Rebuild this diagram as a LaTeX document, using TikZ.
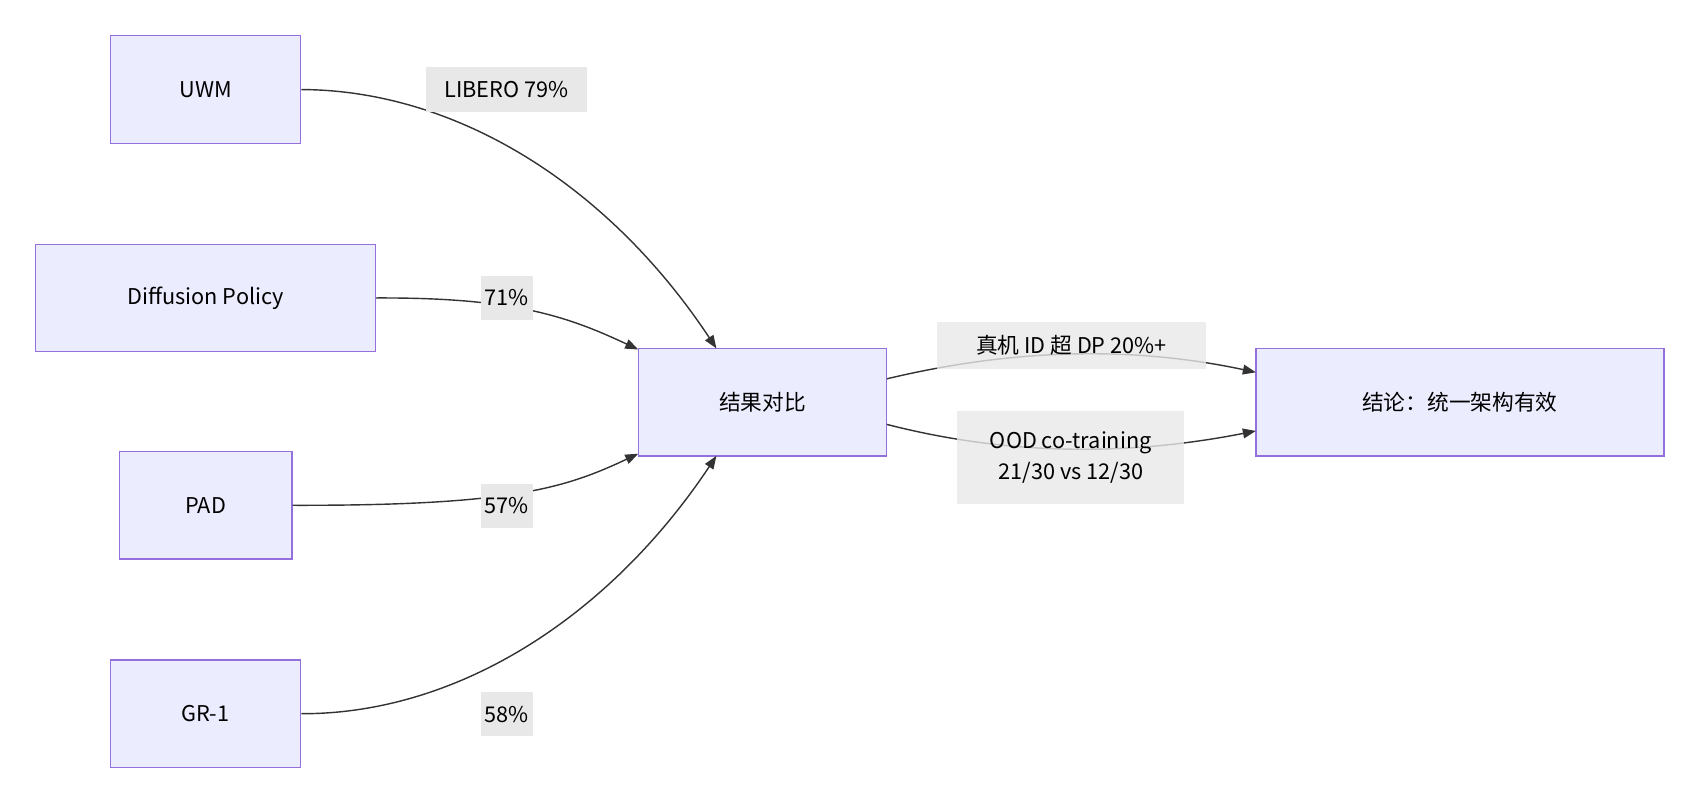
\documentclass[tikz,border=0pt]{standalone}
\usepackage{fontspec}
\setmainfont{Noto Sans CJK SC}
\usetikzlibrary{arrows.meta}
\begin{document}
\begin{tikzpicture}[x=1pt,y=-1pt,
  box/.style={draw=#1,fill=boxfill,line width=1.2pt,inner sep=0pt,font=\fontsize{20}{24}\selectfont},
  box/.default={boxline},
  lbl/.style={fill=lblfill,inner sep=2pt,font=\fontsize{20}{28}\selectfont,align=center},
  edge/.style={draw=edgec,line width=1.3pt,-{Triangle[length=12pt,width=9pt]}}]
\definecolor{boxfill}{HTML}{ECECFF}\definecolor{boxline}{HTML}{9370DB}
\definecolor{lblfill}{HTML}{E8E8E8}\definecolor{edgec}{HTML}{333333}
\useasboundingbox (0,0) rectangle (1568,741);
\node[box,minimum width=175,minimum height=99] (uwm) at (189.5,82.5) {UWM};
\node[box,minimum width=313,minimum height=99] (dp) at (189.5,274.5) {Diffusion Policy};
\node[box,minimum width=159,minimum height=99] (pad) at (189.5,465.5) {PAD};
\node[box,minimum width=175,minimum height=99] (gr) at (189.5,657.5) {GR-1};
\node[box,minimum width=229,minimum height=99] (cmp) at (702.5,370.5) {结果对比};
\node[box,minimum width=376,minimum height=99] (con) at (1345,370.5) {结论：统一架构有效};
\coordinate (c1) at (660,321);\coordinate (c2) at (588,322);
\coordinate (c3) at (588,418);\coordinate (c4) at (660,420);
\coordinate (c5) at (1157,343);\coordinate (c6) at (1157,397);
\draw[edge] (uwm.east) .. controls (420,83) and (560,170) .. (c1);
\draw[edge] (dp.east) .. controls (470,274) and (520,290) .. (c2);
\draw[edge] (pad.east) .. controls (470,466) and (520,450) .. (c3);
\draw[edge] (gr.east) .. controls (420,658) and (560,570) .. (c4);
\draw[edge] (817,349) .. controls (930,322) and (1040,318) .. (c5);
\draw[edge] (817,391) .. controls (930,420) and (1040,420) .. (c6);
\node[lbl,minimum width=149,minimum height=41] (l1) at (466.5,82.5) {LIBERO 79\%};
\node[lbl,minimum width=48,minimum height=41] (l2) at (467,274.5) {71\%};
\node[lbl,minimum width=48,minimum height=41] (l3) at (467,466) {57\%};
\node[lbl,minimum width=48,minimum height=41] (l4) at (467,658) {58\%};
\node[lbl,minimum width=248,minimum height=43,fill opacity=0.8,text opacity=1] (l5) at (987,318.5) {真机 ID 超 DP 20\%+};
\node[lbl,minimum width=209,minimum height=85,fill opacity=0.8,text opacity=1] (l6) at (986.5,421.5) {OOD co-training\\21/30 vs 12/30};
\end{tikzpicture}
\end{document}
